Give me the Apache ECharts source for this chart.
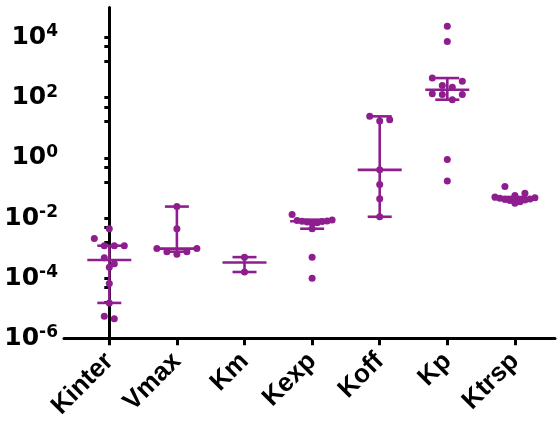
<!DOCTYPE html>
<html>
<head>
<meta charset="utf-8">
<script src="https://cdn.jsdelivr.net/npm/echarts@6/dist/echarts.min.js"></script>
<style>html,body{margin:0;padding:0;background:#fff}#c{width:558px;height:421px}</style>
</head>
<body>
<div id="c"></div>
<script>
// ---- data ----
const categories = ['Kinter', 'Vmax', 'Km', 'Kexp', 'Koff', 'Kp', 'Ktrsp'];
const kinterValues = [4.4e-3, 2.1e-3, 1.2e-3, 1.2e-3, 1.2e-3, 4.8e-4, 3.0e-4, 2.3e-4, 6.6e-5, 1.5e-5, 5.4e-6, 4.5e-6];
const vmaxValues = [2.4e-2, 4.4e-3, 9.6e-4, 9.6e-4, 7.5e-4, 7.5e-4, 6.2e-4];
const kmValues = [5.0e-4, 1.6e-4];
const kexpValues = [1.3e-2, 8.6e-3, 8.3e-3, 8.0e-3, 7.8e-3, 7.6e-3, 7.3e-3, 7.0e-3, 6.7e-3, 4.4e-3, 5.0e-4, 1.0e-4];
const koffValues = [24, 18.5, 16.7, 0.40, 0.13, 0.044, 0.011];
const kpValues = [2.4e4, 7.4e3, 450, 356, 256, 225, 136, 128, 128, 86, 0.89, 0.17];
const ktrspValues = [0.112, 0.067, 0.056, 0.050, 0.047, 0.045, 0.043, 0.042, 0.040, 0.038, 0.035, 0.031];
const medianValues = [4.0e-4, 9.6e-4, 3.3e-4, 7.8e-3, 0.40, 184, 0.042];
const barLowValues = [1.5e-5, 7.6e-4, 1.6e-4, 4.4e-3, 0.011, 86, 0.036];
const barHighValues = [1.2e-3, 2.4e-2, 5.0e-4, 8.8e-3, 24, 450, 0.050];
const yMajorTicks = [1e-6, 1e-4, 1e-2, 1, 1e2, 1e4];
const yMinorTicks = [5e3, 1.6e3, 50, 16, 0.5, 0.16, 5e-3, 1.6e-3, 5e-5, 1.6e-5];

const groups = [kinterValues, vmaxValues, kmValues, kexpValues, koffValues, kpValues, ktrspValues];

// ---- styling ----
const PURPLE = '#8E1E8E';
const DOT = 7;
const ROW_GAP = 9.5, DOT_STEP = 10, MAX_ROW = 40;

const chart = echarts.init(document.getElementById('c'), null, {renderer: 'canvas'});

function buildDots(offsetsPx, unitPx) {
  const data = [];
  groups.forEach((vals, gi) => {
    vals.forEach((v, i) => {
      const off = offsetsPx ? offsetsPx[gi][i] / unitPx : 0;
      data.push([gi + off, v]);
    });
  });
  return data;
}

const option = {
  animation: false,
  backgroundColor: '#fff',
  grid: {left: 64, top: 7.5, right: 3, bottom: 82.7, containLabel: false, outerBoundsMode: 'none'},
  xAxis: {
    type: 'value', min: -0.670, max: 6.593,
    axisLine: {show: true, onZero: false, lineStyle: {color: '#000', width: 3}},
    axisTick: {show: true, customValues: categories.map((c, i) => i), length: 7, lineStyle: {color: '#000', width: 3}},
    axisLabel: {
      customValues: categories.map((c, i) => i),
      formatter: v => categories[Math.round(v)],
      rotate: 45, margin: 19,
      fontSize: 26, fontWeight: 'bold', fontFamily: 'Liberation Sans, Arial, sans-serif', color: '#000'
    },
    splitLine: {show: false}
  },
  yAxis: {
    type: 'log', logBase: 10, min: 1e-6, max: 1e5,
    axisLine: {show: true, lineStyle: {color: '#000', width: 3}},
    axisTick: {show: true, customValues: yMajorTicks.concat(yMinorTicks), length: 5, lineStyle: {color: '#000', width: 3}},
    axisLabel: {
      customValues: yMajorTicks,
      margin: 6,
      formatter: v => '{b|10}{s|' + Math.round(Math.log10(v)) + '}',
      rich: {
        b: {fontSize: 25, fontWeight: 'bold', fontFamily: 'DejaVu Sans', color: '#000', lineHeight: 28},
        s: {fontSize: 17, fontWeight: 'bold', fontFamily: 'DejaVu Sans', color: '#000', lineHeight: 18, verticalAlign: 'top'}
      }
    },
    splitLine: {show: false},
    minorTick: {show: false}
  },
  series: [
    {
      id: 'dots', type: 'scatter', symbol: 'circle', symbolSize: DOT,
      itemStyle: {color: PURPLE, opacity: 1},
      data: buildDots(null, 1), z: 2
    },
    {
      id: 'bars', type: 'custom', z: 3,
      data: categories.map((c, i) => [i, medianValues[i], barLowValues[i], barHighValues[i]]),
      encode: {x: 0, y: [1, 2, 3]},
      renderItem: (params, api) => {
        const x = api.value(0);
        const pm = api.coord([x, api.value(1)]);
        const pl = api.coord([x, api.value(2)]);
        const ph = api.coord([x, api.value(3)]);
        const style = {stroke: PURPLE, lineWidth: 2.6, fill: null};
        return {type: 'group', children: [
          {type: 'line', shape: {x1: ph[0], y1: ph[1], x2: pl[0], y2: pl[1]}, style},
          {type: 'line', shape: {x1: ph[0] - 12, y1: ph[1], x2: ph[0] + 12, y2: ph[1]}, style},
          {type: 'line', shape: {x1: pl[0] - 12, y1: pl[1], x2: pl[0] + 12, y2: pl[1]}, style},
          {type: 'line', shape: {x1: pm[0] - 22, y1: pm[1], x2: pm[0] + 22, y2: pm[1]}, style}
        ]};
      }
    }
  ]
};
chart.setOption(option);

// beeswarm-like row layout computed from the axis' pixel positions
const unitPx = chart.convertToPixel({xAxisIndex: 0}, 1) - chart.convertToPixel({xAxisIndex: 0}, 0);
const offsets = groups.map(vals => {
  const py = vals.map(v => chart.convertToPixel({yAxisIndex: 0}, v));
  const order = vals.map((v, i) => i).sort((a, b) => py[a] - py[b]);
  const rows = [];
  let cur = null;
  order.forEach(i => {
    if (!cur || py[i] - cur.start > ROW_GAP) { cur = {start: py[i], items: []}; rows.push(cur); }
    cur.items.push(i);
  });
  const off = new Array(vals.length).fill(0);
  rows.forEach(r => {
    const k = r.items.length;
    const s = k > 1 ? Math.min(DOT_STEP, MAX_ROW / (k - 1)) : 0;
    // slots filled outside-in, alternating left / right
    const slots = [];
    let lo = 0, hi = k - 1, left = true;
    while (lo <= hi) { if (left) slots.push(lo++); else slots.push(hi--); left = !left; }
    r.items.forEach((i, j) => { off[i] = (slots[j] - (k - 1) / 2) * s; });
  });
  return off;
});
chart.setOption({series: [{id: 'dots', data: buildDots(offsets, unitPx)}]});
</script>
</body>
</html>
